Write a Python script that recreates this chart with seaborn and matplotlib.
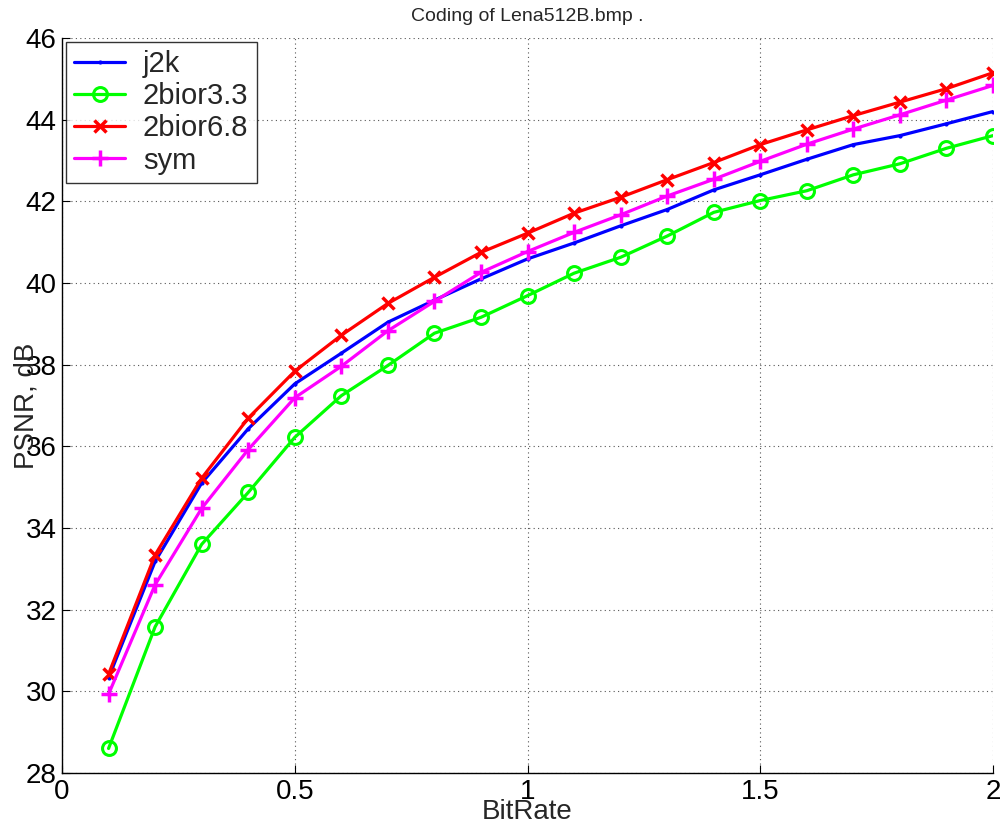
import matplotlib
matplotlib.use("Agg")
import matplotlib.pyplot as plt
import seaborn as sns
import pandas as pd

bitrate = [0.1, 0.2, 0.3, 0.4, 0.5, 0.6, 0.7, 0.8, 0.9, 1.0,
           1.1, 1.2, 1.3, 1.4, 1.5, 1.6, 1.7, 1.8, 1.9, 2.0]
j2k = [30.33, 33.18, 35.10, 36.43, 37.53, 38.28, 39.04, 39.58, 40.10, 40.59,
       40.98, 41.40, 41.80, 42.28, 42.65, 43.03, 43.39, 43.61, 43.90, 44.20]
bior33 = [28.60, 31.58, 33.60, 34.87, 36.22, 37.24, 37.98, 38.77, 39.16, 39.69,
          40.24, 40.63, 41.15, 41.73, 42.02, 42.26, 42.65, 42.92, 43.30, 43.61]
bior68 = [30.42, 33.34, 35.22, 36.69, 37.84, 38.72, 39.50, 40.14, 40.75, 41.22,
          41.71, 42.10, 42.53, 42.95, 43.39, 43.75, 44.10, 44.43, 44.76, 45.15]
sym = [29.93, 32.61, 34.48, 35.92, 37.19, 37.96, 38.83, 39.55, 40.26, 40.77,
       41.24, 41.67, 42.13, 42.54, 42.98, 43.40, 43.77, 44.12, 44.48, 44.84]
series_names = ["j2k", "2bior3.3", "2bior6.8", "sym"]
x_ticks = [0, 0.5, 1, 1.5, 2]
x_tick_labels = ["0", "0.5", "1", "1.5", "2"]
y_ticks = [28, 30, 32, 34, 36, 38, 40, 42, 44, 46]

sns.set_style("white")
plt.rcParams["font.family"] = ["Liberation Sans", "DejaVu Sans"]

df = pd.DataFrame({"BitRate": bitrate * 4,
                   "PSNR": j2k + bior33 + bior68 + sym,
                   "codec": sum([[n] * len(bitrate) for n in series_names], [])})

fig = plt.figure(figsize=(10.05, 8.3), dpi=100)
ax = fig.add_axes([0.0617, 0.0687, 0.9264, 0.8855])

styles = {
    "j2k": dict(color="#0000ff", marker=".", markersize=4, mfc="#0000ff"),
    "2bior3.3": dict(color="#00ff00", marker="o", markersize=10, mfc="none", mew=2.2),
    "2bior6.8": dict(color="#ff0000", marker="x", markersize=8, mew=2.5),
    "sym": dict(color="#ff00ff", marker="+", markersize=12, mew=2.5),
}
for name in series_names:
    st = styles[name]
    sub = df[df["codec"] == name]
    sns.lineplot(data=sub, x="BitRate", y="PSNR", ax=ax, color=st["color"],
                 marker=st["marker"], markersize=st["markersize"],
                 markerfacecolor=st.get("mfc", st["color"]),
                 markeredgecolor=st["color"], markeredgewidth=st.get("mew", 1),
                 linewidth=2.3, label=name, estimator=None, sort=False)

ax.set_xlim(0, 2)
ax.set_ylim(28, 46)
ax.set_xticks(x_ticks)
ax.set_xticklabels(x_tick_labels)
ax.set_yticks(y_ticks)
ax.grid(True, linestyle=(0, (1, 3)), color="#555555", linewidth=0.8)
for s in ["top", "right"]:
    ax.spines[s].set_visible(False)
for s in ["left", "bottom"]:
    ax.spines[s].set_color("black")
    ax.spines[s].set_linewidth(1.0)
ax.tick_params(direction="in", length=6, width=0.8, labelsize=20, pad=4,
               colors="black", left=True, bottom=True)
ax.set_xlabel("BitRate", fontsize=20, labelpad=-4)
ax.set_ylabel("PSNR, dB", fontsize=20, labelpad=-10)
ax.set_title("Coding of Lena512B.bmp .", fontsize=14, pad=12)

leg = ax.legend(loc="upper left", fontsize=21, frameon=True, fancybox=False,
                edgecolor="black", borderaxespad=0.12, handlelength=1.75,
                labelspacing=0.14, borderpad=0.3, handletextpad=0.6)
leg.get_frame().set_linewidth(1.0)

fig.savefig("out.png", dpi=100)
